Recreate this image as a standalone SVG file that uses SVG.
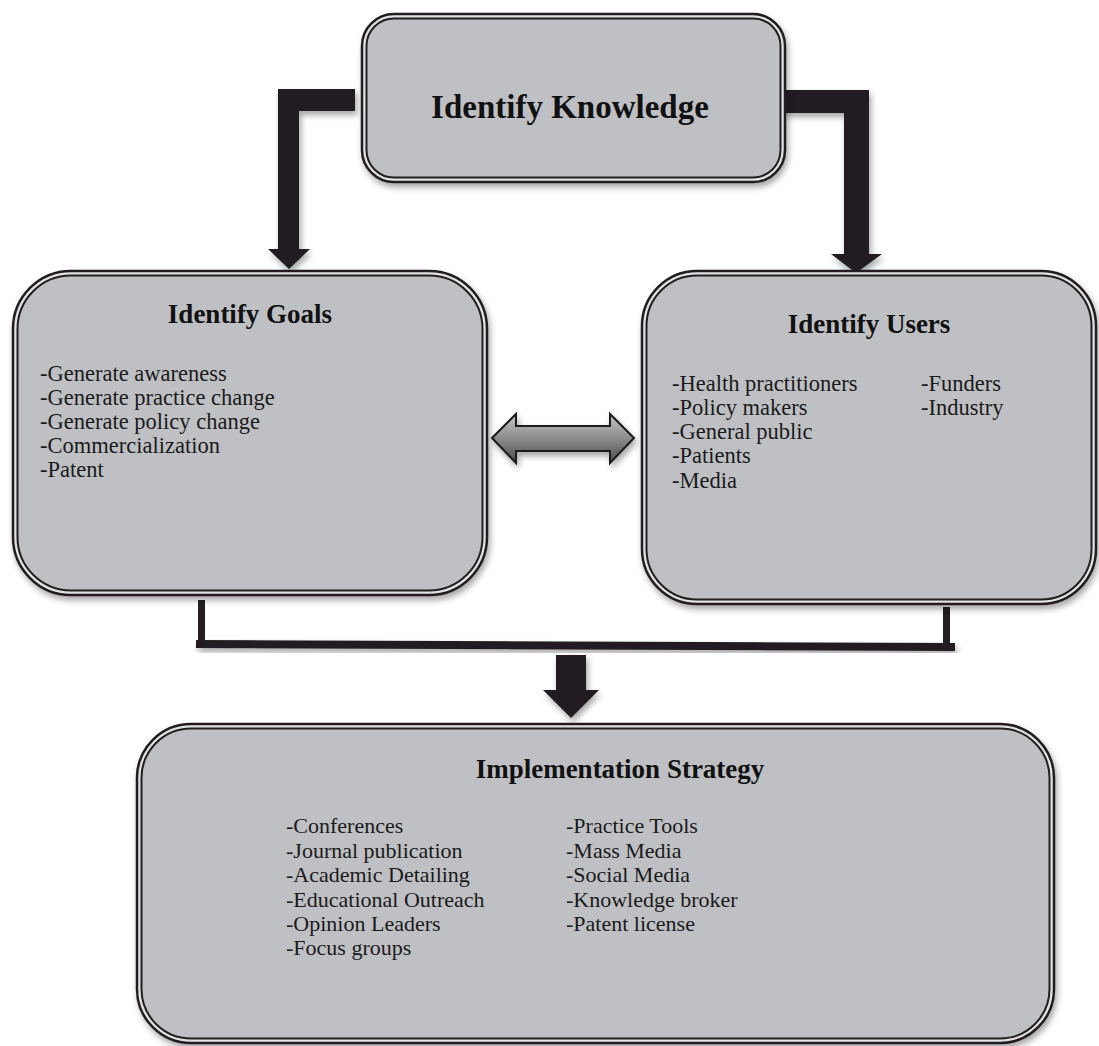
<svg xmlns="http://www.w3.org/2000/svg" width="1099" height="1046" viewBox="0 0 1099 1046">
  <defs>
    <filter id="shadow" x="-5%" y="-5%" width="115%" height="120%">
      <feDropShadow dx="2" dy="4" stdDeviation="3" flood-color="#000" flood-opacity="0.35"/>
    </filter>
    <linearGradient id="dblGrad" x1="0" y1="0" x2="0" y2="1">
      <stop offset="0" stop-color="#c6c6c6"/>
      <stop offset="0.5" stop-color="#8c8c8c"/>
      <stop offset="1" stop-color="#4a4a4a"/>
    </linearGradient>
  </defs>
  <style>
    .outer{fill:#e2e2e4;stroke:#231f20;stroke-width:2.5}
    .inner{fill:#bfc0c4;stroke:#231f20;stroke-width:2}
    .conn{fill:#231f20}
    .title{font-family:"Liberation Serif","Times New Roman",serif;font-weight:bold;fill:#111;text-anchor:middle}
    .item{font-family:"Liberation Serif","Times New Roman",serif;font-size:22.5px;fill:#1a1a1a}
    .item2{font-family:"Liberation Serif","Times New Roman",serif;font-size:22px;fill:#1a1a1a}
  </style>

  <g id="connectors">
    <path class="conn" filter="url(#shadow)" d="M355,89 L278,89 L278,249 L268,249 L289,269 L310,249 L299,249 L299,111 L355,111 Z"/>
    <path class="conn" filter="url(#shadow)" d="M782,90 L869,90 L869,254 L882,254 L856,273 L831,254 L844,254 L844,113 L782,113 Z"/>
    <path filter="url(#shadow)" fill="url(#dblGrad)" stroke="#1a1a1a" stroke-width="2" stroke-linejoin="miter" d="M492,438 L516,414 L516,426 L610,426 L610,414 L634,438 L610,463 L610,451 L516,451 L516,463 Z"/>
    <rect class="conn" x="198" y="600" width="7" height="46"/>
    <rect class="conn" x="943" y="607" width="7" height="40"/>
    <polygon class="conn" filter="url(#shadow)" points="196,640 955,643 955,651 196,648"/>
    <path class="conn" filter="url(#shadow)" d="M556,655 L586,655 L586,690 L599,690 L571,718 L543,690 L556,690 Z"/>
  </g>

  <g id="identify-knowledge">
    <rect class="outer" filter="url(#shadow)" x="362" y="14" width="423" height="168" rx="32"/>
    <rect class="inner" x="366.5" y="18.5" width="414" height="159" rx="27.5"/>
    <text class="title" x="570" y="118" font-size="33">Identify Knowledge</text>
  </g>

  <g id="identify-goals">
    <rect class="outer" filter="url(#shadow)" x="13" y="271" width="474" height="324" rx="58"/>
    <rect class="inner" x="17.5" y="275.5" width="465" height="315" rx="53.5"/>
    <text class="title" x="250" y="323" font-size="27">Identify Goals</text>
    <text class="item" x="40" y="381">-Generate awareness</text>
    <text class="item" x="40" y="405">-Generate practice change</text>
    <text class="item" x="40" y="429">-Generate policy change</text>
    <text class="item" x="40" y="453">-Commercialization</text>
    <text class="item" x="40" y="477">-Patent</text>
  </g>

  <g id="identify-users">
    <rect class="outer" filter="url(#shadow)" x="642" y="271" width="454" height="333" rx="55"/>
    <rect class="inner" x="646.5" y="275.5" width="445" height="324" rx="50.5"/>
    <text class="title" x="869" y="333" font-size="27">Identify Users</text>
    <text class="item" x="672" y="391">-Health practitioners</text>
    <text class="item" x="672" y="415">-Policy makers</text>
    <text class="item" x="672" y="439">-General public</text>
    <text class="item" x="672" y="463">-Patients</text>
    <text class="item" x="672" y="488">-Media</text>
    <text class="item" x="921" y="391">-Funders</text>
    <text class="item" x="921" y="415">-Industry</text>
  </g>

  <g id="implementation-strategy">
    <rect class="outer" filter="url(#shadow)" x="137" y="724" width="917" height="319" rx="54"/>
    <rect class="inner" x="141.5" y="728.5" width="908" height="310" rx="49.5"/>
    <text class="title" x="620" y="778" font-size="27">Implementation Strategy</text>
    <text class="item2" x="286" y="833">-Conferences</text>
    <text class="item2" x="286" y="858">-Journal publication</text>
    <text class="item2" x="286" y="882">-Academic Detailing</text>
    <text class="item2" x="286" y="907">-Educational Outreach</text>
    <text class="item2" x="286" y="931">-Opinion Leaders</text>
    <text class="item2" x="286" y="955">-Focus groups</text>
    <text class="item2" x="566" y="833">-Practice Tools</text>
    <text class="item2" x="566" y="858">-Mass Media</text>
    <text class="item2" x="566" y="882">-Social Media</text>
    <text class="item2" x="566" y="907">-Knowledge broker</text>
    <text class="item2" x="566" y="931">-Patent license</text>
  </g>
</svg>
